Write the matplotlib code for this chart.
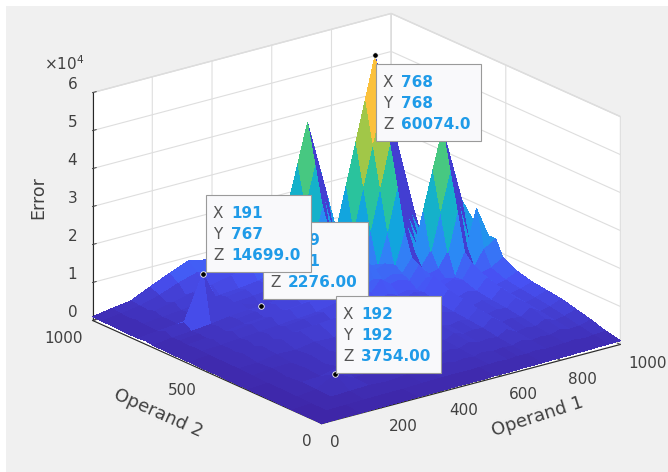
import matplotlib
matplotlib.use('Agg')
import matplotlib.pyplot as plt
from matplotlib.colors import LinearSegmentedColormap, Normalize
from matplotlib.patches import Rectangle
import numpy as np

# grid nodes (finer around the spikes)
nodes = [0, 64, 128, 192, 256, 320, 384, 448, 512, 544, 576, 608, 640, 672,
         704, 736, 768, 800, 832, 864, 896, 928, 960, 1000]

# error in thousands, one row per Operand 2 node
error_k = [
    [0, .1, .1, .2, .2, .3, .3, .4, .4, .4, .5, .5, .5, .6, .6, .6, .7, .7, .7, .8, .8, .9, .9, 1],
    [.1, .3, .4, .5, .6, .6, .8, .9, 1, .9, 1, 1.1, 1.2, 1, 1.3, 1.2, 1.5, 1.2, 1.3, 1.4, 1.6, 1.3, 1.5, 1.8],
    [.1, .4, .8, 1, 1.2, .9, 1.4, 1.1, 1.8, 1.3, 1.6, 1.4, 2, 1.5, 1.8, 1.6, 2.4, 1.7, 2, 1.8, 2.6, 2, 2.2, 3],
    [.2, .5, 1, 3.754, 1.4, 1.8, 1.5, 2, 2.4, 1.6, 2.2, 1.8, 2.8, 2, 2.4, 2.1, 3.5, 2.2, 2.6, 2.3, 3.6, 2.6, 3, 4],
    [.2, .6, 1.2, 1.4, 2.6, 1.6, 2.2, 1.8, 3, 2, 2.8, 2.2, 3.4, 2.6, 3, 2.8, 4.8, 3, 3.4, 3, 4.8, 3.2, 3.8, 5],
    [.3, .6, .9, 1.8, 1.6, 3, 2, 2.6, 3.6, 2.4, 3.2, 2.6, 4, 3, 3.6, 3.2, 5.5, 3.4, 4, 3.6, 5.5, 3.8, 4.4, 5.5],
    [.3, .8, 1.4, 1.5, 2.2, 2, 3.5, 2.4, 4.2, 2.8, 3.8, 3, 4.6, 3.4, 4.2, 3.6, 6.2, 3.8, 4.6, 4, 6.5, 4.4, 5, 6],
    [.4, .9, 1.1, 2, 1.8, 2.6, 2.4, 4, 4.8, 3.2, 4.2, 3.4, 5.2, 3.8, 4.8, 4, 7, 4.4, 5.2, 4.6, 7.5, 5, 5.6, 7],
    [.4, 1, 1.8, 2.4, 3, 3.6, 4.2, 4.8, 7, 4, 5.6, 4.4, 6.5, 5, 6, 5.2, 9, 5.6, 6.6, 5.8, 9.5, 6.4, 7, 9],
    [.4, .9, 1.3, 1.6, 2, 2.4, 2.8, 3.2, 4, 5, 5, 4.6, 6, 5, 5.6, 5, 7.5, 5.4, 6, 5.6, 11.5, 7, 11, 13],
    [.5, 1, 1.6, 2.2, 2.8, 3.2, 3.8, 4.2, 5.6, 5, 8, 6, 9, 7, 7.5, 6.5, 10, 7, 7.6, 11.5, 21.5, 11.5, 21, 13],
    [.5, 1.1, 1.4, 1.8, 2.2, 2.6, 3, 3.4, 4.4, 4.6, 6, 7, 8, 7, 8, 7.5, 11, 8, 11.5, 21.5, 31.5, 21.5, 11.5, 15],
    [.5, 1.2, 2, 2.8, 3.4, 4, 4.6, 5.2, 6.5, 6, 9, 8, 12, 9, 10, 9, 17.3, 11.5, 21.5, 31.5, 41.5, 31.5, 21.5, 15],
    [.6, 1, 1.5, 2, 2.6, 3, 3.4, 3.8, 5, 5, 7, 7, 9, 9, 9, 17.3, 28, 17.3, 11.5, 21.5, 31.5, 21.5, 11.5, 13],
    [.6, 1.3, 1.8, 2.4, 3, 3.6, 4.2, 4.8, 6, 5.6, 7.5, 8, 10, 9, 17.3, 28, 38.7, 28, 17.3, 11.5, 21.5, 11.5, 7, 8],
    [.6, 1.2, 1.6, 2.1, 2.8, 3.2, 3.6, 4, 5.2, 5, 6.5, 7.5, 9, 17.3, 28, 38.7, 49.3, 38.7, 28, 17.3, 11.5, 6.7, 6, 8],
    [1, 2, 3, 14.699, 3.5, 4, 2.276, 5, 8, 5, 6, 7, 17.3, 28, 38.7, 49.3, 60.074, 49.3, 38.7, 28, 17.3, 7, 6, 9],
    [.7, 1.2, 1.7, 2.2, 3, 3.4, 3.8, 4.4, 5.6, 5.4, 7, 8, 11.5, 17.3, 28, 38.7, 49.3, 38.7, 28, 17.3, 7, 6, 6, 7],
    [.7, 1.3, 2, 2.6, 3.4, 4, 4.6, 5.2, 6.6, 6, 7.6, 11.5, 21.5, 11.5, 17.3, 28, 38.7, 28, 17.3, 6.7, 6, 5.5, 5, 6],
    [.8, 1.4, 1.8, 2.3, 3, 3.6, 4, 4.6, 5.8, 5.6, 11.5, 21.5, 31.5, 21.5, 11.5, 17.3, 28, 17.3, 7, 6, 5.5, 5, 5, 5],
    [.8, 1.6, 2.6, 3.6, 4.8, 5.5, 6.5, 7.5, 9.5, 11.5, 21.5, 31.5, 41.5, 31.5, 21.5, 11.5, 17.3, 7, 6, 5.5, 7, 5, 5, 6],
    [.9, 1.3, 2, 2.6, 3.2, 3.8, 4.4, 5, 6.4, 7, 11.5, 21.5, 31.5, 21.5, 11.5, 6.7, 7, 6, 5.5, 5, 5, 5, 4.5, 4],
    [.9, 1.5, 2.2, 3.6, 5.5, 7, 6, 5.6, 7, 11, 21, 11.5, 21.5, 11.5, 7, 6, 6, 6, 5, 5, 5, 4.5, 4.5, 4],
    [1, 1.8, 2.5, 4.8, 7, 9, 8, 7, 9, 13, 13, 15, 15, 13, 8, 8, 9, 7, 6, 5, 6, 4, 4, 4],
]

z_ticks = [0, 10000, 20000, 30000, 40000, 50000, 60000]
z_labels = ['0', '1', '2', '3', '4', '5', '6']
xy_ticks = [0, 200, 400, 600, 800, 1000]
y_ticks = [0, 500, 1000]

tip_x = [768, 191, 379, 192]
tip_y = [768, 767, 761, 192]
tip_z = [60074.0, 14699.0, 2276.00, 3754.00]
tip_text = ['60074.0', '14699.0', '2276.00', '3754.00']
# box corners in pixels, same order as the tips
box_left = [376, 206, 263, 336]
box_top = [64, 195, 222, 296]
box_order = [0, 2, 1, 3]

parula = LinearSegmentedColormap.from_list('parula', [
    (0.2422, 0.1504, 0.6603), (0.2810, 0.3228, 0.9579), (0.1786, 0.5289, 0.9682),
    (0.0689, 0.6500, 0.8700), (0.0900, 0.7300, 0.7300), (0.2000, 0.7800, 0.5600),
    (0.5044, 0.7993, 0.3480), (0.8000, 0.7600, 0.2000), (0.9856, 0.7372, 0.2537),
    (0.9763, 0.8200, 0.1700), (0.9769, 0.9839, 0.0805)])

W, H = 668, 472
fig = plt.figure(figsize=(W / 100, H / 100), dpi=100, facecolor='white')
fig.add_artist(Rectangle((6 / W, 0), 662 / W, 466 / H, transform=fig.transFigure,
                         fc='#f0f0f0', ec='none', zorder=-5))

# big square axes centred on the middle of the box, the surface is clipped to them
side = 700
ax = fig.add_axes([(347 - side / 2) / W, (H - 228 - side / 2) / H, side / W, side / H],
                  projection='3d', computed_zorder=False)
ax.set_proj_type('ortho')
ax.view_init(elev=20.2, azim=-127.5)
ax.set_box_aspect((1, 1, 0.645), zoom=1.42 * 400 / side)
ax.set_facecolor((0, 0, 0, 0))

X, Y = np.meshgrid(nodes, nodes)
Z = np.array(error_k) * 1000.0

# colour each facet by its mean height, the far side of a spike stays dark
norm = Normalize(0, 60074)
face = (Z[:-1, :-1] + Z[1:, 1:] + Z[1:, :-1] + Z[:-1, 1:]) / 4
drop = Z[1:, :-1] - Z[:-1, 1:]
face = np.where(drop > 9000, 3500, face)
ax.plot_surface(X, Y, Z, rstride=1, cstride=1, facecolors=parula(norm(face)), shade=False,
                linewidth=0, antialiased=False, zorder=1)
ax.scatter(tip_x, tip_y, tip_z, s=16, c='black', edgecolors='white', linewidths=0.6,
           depthshade=False, zorder=5)

ax.set_xlim(0, 1000)
ax.set_ylim(0, 1000)
ax.set_zlim(0, 60000)
ax.set_xticks(xy_ticks)
ax.set_yticks(y_ticks)
ax.set_zticks(z_ticks)
ax.set_zticklabels(z_labels)
ax.tick_params(labelsize=11, colors='#404040', pad=1)
ax.tick_params(axis='z', pad=2)
ax.zaxis.set_ticks_position('upper')
for label in ax.get_xticklabels():
    label.set_ha('left')
for label in ax.get_yticklabels():
    label.set_ha('right')
for label in ax.get_zticklabels():
    label.set_va('bottom')

for axis in (ax.xaxis, ax.yaxis, ax.zaxis):
    axis.set_pane_color('white')
    axis.pane.set_edgecolor('#d8d8d8')
    axis.line.set_color('#262626')
    axis.line.set_linewidth(0.8)
    axis._axinfo['grid'].update(color='#dedede', linewidth=0.8)
    axis._axinfo['tick'].update(inward_factor=0.0, outward_factor=0.15, linewidth={True: 0.7, False: 0.5})

# axis labels sit off the axis centres in the reference, so they are placed by hand
fig.text(538 / W, 1 - 417 / H, 'Operand 1', fontsize=13, color='#404040', rotation=18,
         rotation_mode='anchor', ha='center', va='center')
fig.text(158 / W, 1 - 413 / H, 'Operand 2', fontsize=13, color='#404040', rotation=-24,
         rotation_mode='anchor', ha='center', va='center')
fig.text(38 / W, 1 - 198 / H, 'Error', fontsize=12.5, color='#404040', rotation=90,
         rotation_mode='anchor', ha='center', va='center')
fig.text(44 / W, 1 - 70 / H, '×10$^4$', fontsize=11, color='#404040', va='baseline')

# data tips
for n, i in enumerate(box_order):
    left, top = box_left[i], box_top[i]
    z0 = 10 + 2 * n
    fig.add_artist(Rectangle((left / W, 1 - (top + 77) / H), 105 / W, 77 / H, transform=fig.transFigure,
                             fc='#f9f9fb', ec='#9a9a9a', lw=0.8, zorder=z0))
    rows = [('X', str(tip_x[i])), ('Y', str(tip_y[i])), ('Z', tip_text[i])]
    for k, (name, val) in enumerate(rows):
        y = 1 - (top + 19 + 21 * k + 4) / H
        fig.text((left + 7) / W, y, name, fontsize=11, color='#555555', zorder=z0 + 1)
        fig.text((left + 25) / W, y, val, fontsize=11, color='#1f9be8', fontweight='bold', zorder=z0 + 1)

fig.savefig('out.png', dpi=100, facecolor='white')
